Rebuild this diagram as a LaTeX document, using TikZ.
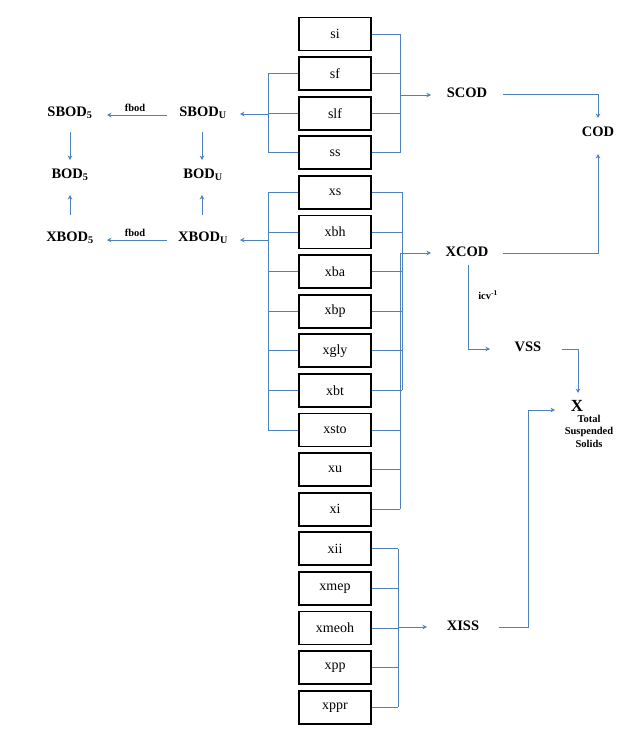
\documentclass[tikz,border=0pt]{standalone}
\usepackage{fontspec}
\setmainfont{Liberation Serif}
\usetikzlibrary{arrows.meta,calc}
\definecolor{lnblue}{RGB}{79,129,189}
\begin{document}
\begin{tikzpicture}[x=1pt,y=-1pt,
 box/.style={draw=black,line width=1.7pt,minimum width=72pt,minimum height=33pt,inner sep=0pt,font=\fontsize{14}{16}\selectfont},
 lbl/.style={font=\fontsize{14.5}{17}\selectfont\bfseries,inner sep=2pt},
 smalllbl/.style={font=\fontsize{10.5}{12.5}\selectfont\bfseries,inner sep=1pt},
 wire/.style={draw=lnblue,line width=0.8pt},
 arr/.style={wire,-{Stealth[length=4.5pt,width=4.5pt]}}]
\useasboundingbox (0,0) rectangle (624,731);

% boxes
\foreach \n [count=\i from 0] in {si,sf,slf,ss,xs,xbh,xba,xbp,xgly,xbt,xsto,xu,xi,xii,xmep,xmeoh,xpp,xppr}
  \node[box] (\n) at (335,{34+39.6*\i}) {\n};

% labels
\node[lbl] (SCOD) at (467,93) {SCOD};
\node[lbl] (COD) at (598,132) {COD};
\node[lbl] (XCOD) at (467,252) {XCOD};
\node[lbl] (VSS) at (528,347) {VSS};
\node[lbl] (XISS) at (463,626) {XISS};
\node[font=\fontsize{17}{19}\selectfont\bfseries,inner sep=1pt] (X) at (577,406) {X};
\node[smalllbl,align=center] (TSS) at (589,431) {Total\\Suspended\\Solids};
\node[smalllbl] (icv) at (488,295) {icv\textsuperscript{-1}};

\node[lbl] (SBOD5) at (70,113) {SBOD\textsubscript{5}};
\node[lbl] (SBODU) at (203,113) {SBOD\textsubscript{U}};
\node[lbl] (BOD5) at (70,175) {BOD\textsubscript{5}};
\node[lbl] (BODU) at (203,175) {BOD\textsubscript{U}};
\node[lbl] (XBOD5) at (70,238) {XBOD\textsubscript{5}};
\node[lbl] (XBODU) at (203,238) {XBOD\textsubscript{U}};
\node[smalllbl] (fb1) at (135,108) {fbod};
\node[smalllbl] (fb2) at (135,233) {fbod};

% bus coordinates
\coordinate (busTL) at (268,114);
\coordinate (busML) at (268,240);
\coordinate (busTR) at (400,95);
\coordinate (busMR) at (402,253);
\coordinate (busLR) at (400,253);
\coordinate (busBR) at (398,627);

% top-left bus
\foreach \n in {sf,slf,ss} \draw[wire] (\n.west) -- (\n.west -| busTL);
\draw[wire] (sf.west -| busTL) -- (ss.west -| busTL);
\draw[arr] (busTL) -- ($(SBODU.center)+(37,1)$);

% middle-left bus
\foreach \n in {xs,xbh,xba,xbp,xgly,xbt,xsto} \draw[wire] (\n.west) -- (\n.west -| busML);
\draw[wire] (xs.west -| busML) -- (xsto.west -| busML);
\draw[arr] (busML) -- ($(XBODU.center)+(37,2)$);

% top-right bus
\foreach \n in {si,sf,slf,ss} \draw[wire] (\n.east) -- (\n.east -| busTR);
\draw[wire] (si.east -| busTR) -- (ss.east -| busTR);
\draw[arr] (busTR) -- (busTR -| {$(SCOD.center)+(-36,0)$});

% middle-right bus
\foreach \n in {xs,xbh,xba,xbp,xgly,xbt} \draw[wire] (\n.east) -- (\n.east -| busMR);
\draw[wire] (xs.east -| busMR) -- (xbt.east -| busMR);
\foreach \n in {xsto,xu,xi} \draw[wire] (\n.east) -- (\n.east -| busLR);
\draw[wire] (busLR) -- (xi.east -| busLR);
\draw[arr] (busLR) -- (busLR -| {$(XCOD.center)+(-36,0)$});

% bottom-right bus
\foreach \n in {xii,xmep,xmeoh,xpp,xppr} \draw[wire] (\n.east) -- (\n.east -| busBR);
\draw[wire] (xii.east -| busBR) -- (xppr.east -| busBR);
\draw[arr] (busBR) -- (busBR -| {$(XISS.center)+(-36,0)$});

% right side flows
\coordinate (scodE) at ($(SCOD.center)+(36,1)$);
\coordinate (xcodE) at ($(XCOD.center)+(36,1)$);
\draw[arr] (scodE) -| ($(COD.center)+(0,-14)$);
\draw[arr] (xcodE) -| ($(COD.center)+(0,22)$);
\coordinate (xcodS) at ($(XCOD.center)+(1,13)$);
\draw[arr] (xcodS) |- ($(VSS.center)+(-38,2)$);
\coordinate (vssE) at ($(VSS.center)+(34,2)$);
\draw[arr] (vssE) -| ($(X.center)+(1,-13)$);
\coordinate (xissE) at ($(XISS.center)+(36,1)$);
\coordinate (xissUp) at ($(X.center)+(-49,4)$);
\draw[arr] (xissE) -| (xissUp) -- ($(X.center)+(-22,4)$);

% left flows
\draw[arr] ($(SBODU.center)+(-36,2)$) -- ($(SBOD5.center)+(37,2)$);
\draw[arr] ($(XBODU.center)+(-36,2)$) -- ($(XBOD5.center)+(37,2)$);
\draw[arr] ($(SBOD5.center)+(0,19)$) -- ($(BOD5.center)+(0,-15)$);
\draw[arr] ($(XBOD5.center)+(0,-23)$) -- ($(BOD5.center)+(0,20)$);
\draw[arr] ($(SBODU.center)+(-1,19)$) -- ($(BODU.center)+(-1,-15)$);
\draw[arr] ($(XBODU.center)+(-1,-23)$) -- ($(BODU.center)+(-1,20)$);
\end{tikzpicture}
\end{document}
